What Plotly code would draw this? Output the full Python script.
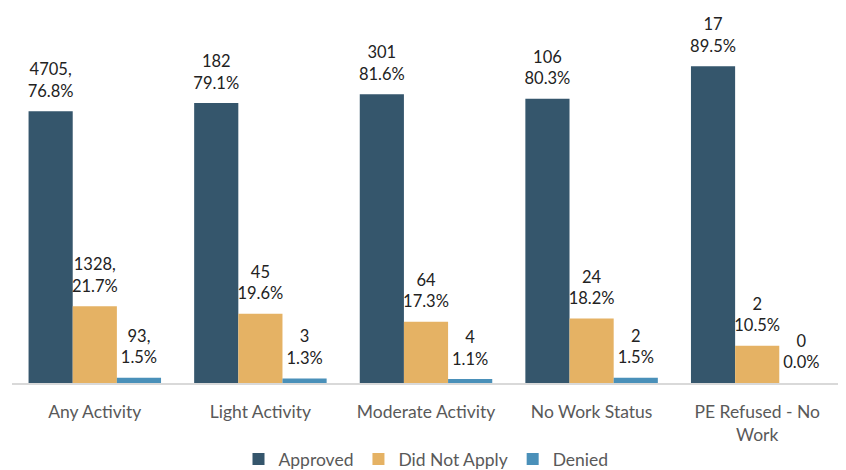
import plotly.graph_objects as go

categories = ["Any Activity", "Light Activity", "Moderate Activity", "No Work Status", "PE Refused - No<br>Work"]

approved_pct = [76.8, 79.1, 81.6, 80.3, 89.5]
approved_n = [4705, 182, 301, 106, 17]
did_not_apply_pct = [21.7, 19.6, 17.3, 18.2, 10.5]
did_not_apply_n = [1328, 45, 64, 24, 2]
denied_pct = [1.5, 1.3, 1.1, 1.5, 0.0]
denied_n = [93, 3, 4, 2, 0]


def make_labels(counts, pcts):
    # first category uses "n,<br>pct", the rest drop the comma
    out = []
    for i, (n, p) in enumerate(zip(counts, pcts)):
        sep = "," if i == 0 else ""
        out.append(f"{n}{sep}<br>{p:.1f}%")
    return out


series = [
    ("Approved", approved_pct, approved_n, "#35566c"),
    ("Did Not Apply", did_not_apply_pct, did_not_apply_n, "#e5b264"),
    ("Denied", denied_pct, denied_n, "#4a90b9"),
]

fig = go.Figure()
for name, pcts, counts, color in series:
    fig.add_trace(go.Bar(
        x=categories, y=pcts, name=name, offsetgroup=name,
        marker=dict(color=color, line=dict(width=0)),
        hoverinfo="skip",
    ))
# labels as grouped text scatters, so they sit over their bars with a bit of air
for name, pcts, counts, color in series:
    fig.add_trace(go.Scatter(
        x=categories, y=pcts, offsetgroup=name,
        mode="markers+text",
        marker=dict(size=15, color="rgba(0,0,0,0)"),
        text=make_labels(counts, pcts),
        textposition="top center",
        textfont=dict(size=16.5, color="#222222"),
        cliponaxis=False, showlegend=False, hoverinfo="skip",
    ))

# the page body has an 8px margin, so the figure is 8px smaller each way
fig.update_layout(
    width=838, height=462,
    barmode="group", bargap=0.2, bargroupgap=0,
    scattermode="group", scattergap=0.2,
    plot_bgcolor="white", paper_bgcolor="white",
    font=dict(family="Lato, Open Sans, sans-serif", size=17, color="#595959"),
    margin=dict(l=4, r=6, t=2, b=87, autoexpand=False),
    xaxis=dict(
        showline=True, linecolor="#d9d9d9", linewidth=2,
        ticks="outside", ticklen=12, tickcolor="rgba(0,0,0,0)",
        tickfont=dict(size=17.5, color="#595959"),
        automargin=False,
    ),
    yaxis=dict(range=[0, 105.4], visible=False, automargin=False),
    legend=dict(
        orientation="h", x=0.5, xanchor="center", y=-0.204, yanchor="middle",
        font=dict(size=17.5, color="#595959"),
        itemwidth=30,
    ),
)

fig.write_html("out.html")
